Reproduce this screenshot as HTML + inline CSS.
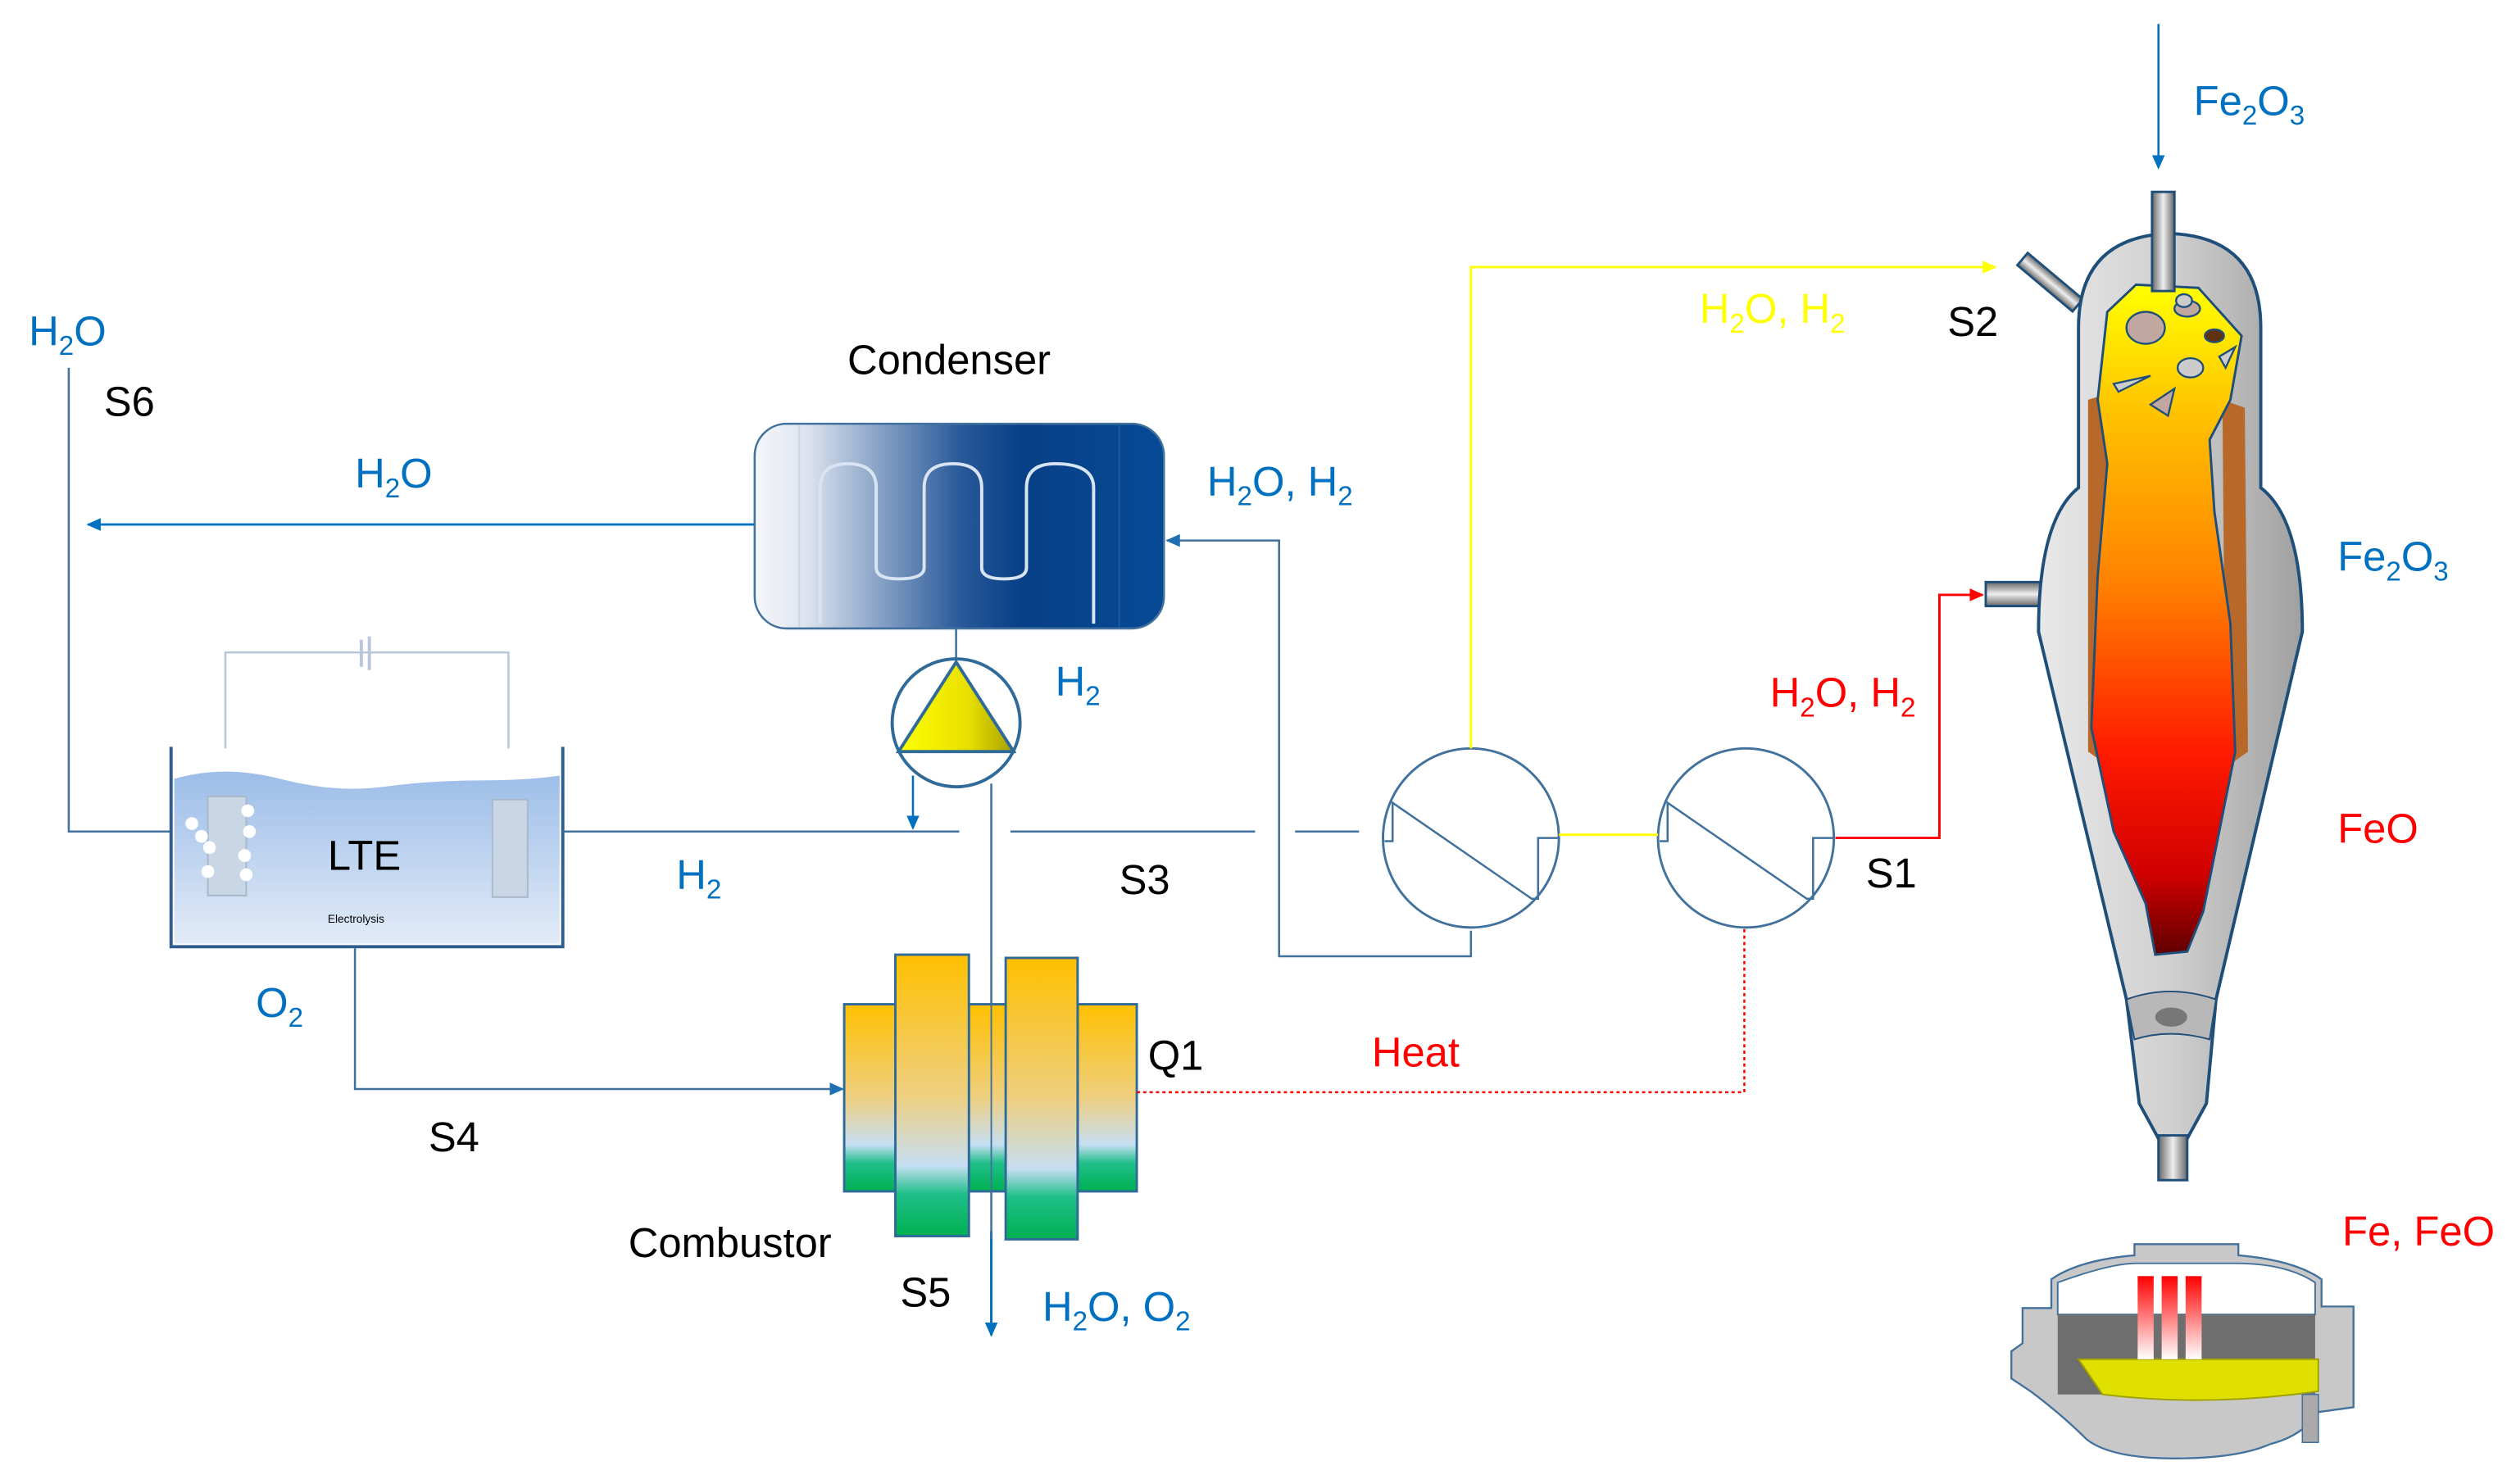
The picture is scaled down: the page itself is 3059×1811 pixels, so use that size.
<!DOCTYPE html>
<html><head><meta charset="utf-8"><style>
html,body{margin:0;padding:0;background:#fff;}
svg{display:block;}
text{font-family:"Liberation Sans",sans-serif;font-size:26px;}
.b{fill:#0070c0}.k{fill:#000}.r{fill:#ff0000}.y{fill:#ffff00}
</style></head><body>
<svg width="3059" height="1811" viewBox="0 0 1568 928" preserveAspectRatio="none" xmlns="http://www.w3.org/2000/svg">
<defs>
<linearGradient id="cond" x1="0" x2="1" y1="0" y2="0">
<stop offset="0" stop-color="#f4f6fa"/><stop offset="0.12" stop-color="#e0e6f0"/><stop offset="0.5" stop-color="#2a5a9a"/><stop offset="0.65" stop-color="#083f86"/><stop offset="1" stop-color="#064a96"/></linearGradient>
<linearGradient id="comb" x1="0" x2="0" y1="0" y2="1">
<stop offset="0" stop-color="#ffc000"/><stop offset="0.5" stop-color="#eecf80"/><stop offset="0.75" stop-color="#c6def2"/><stop offset="0.85" stop-color="#1fbf8a"/><stop offset="1" stop-color="#00b050"/></linearGradient>
<linearGradient id="tri" x1="0" x2="1" y1="0" y2="0"><stop offset="0" stop-color="#ffff00"/><stop offset="0.6" stop-color="#e8e000"/><stop offset="1" stop-color="#a8a000"/></linearGradient>
<linearGradient id="water" x1="0" x2="0" y1="0" y2="1"><stop offset="0" stop-color="#9cbde8"/><stop offset="1" stop-color="#e2ebf7"/></linearGradient>
<linearGradient id="flame" x1="0" x2="0" y1="0" y2="1"><stop offset="0" stop-color="#ffff00"/><stop offset="0.2" stop-color="#ffc000"/><stop offset="0.45" stop-color="#ff8000"/><stop offset="0.7" stop-color="#ff1a00"/><stop offset="0.88" stop-color="#d00000"/><stop offset="1" stop-color="#600000"/></linearGradient>
<linearGradient id="shell" x1="0" x2="1" y1="0" y2="0"><stop offset="0" stop-color="#e8e8e8"/><stop offset="0.5" stop-color="#d0d0d0"/><stop offset="1" stop-color="#a0a0a0"/></linearGradient>
<linearGradient id="pipe" x1="0" x2="1"><stop offset="0" stop-color="#666"/><stop offset="0.5" stop-color="#eee"/><stop offset="1" stop-color="#666"/></linearGradient>
<linearGradient id="pipeh" x1="0" x2="0" y1="0" y2="1"><stop offset="0" stop-color="#666"/><stop offset="0.5" stop-color="#eee"/><stop offset="1" stop-color="#666"/></linearGradient>
<linearGradient id="rod" x1="0" x2="0" y1="0" y2="1"><stop offset="0" stop-color="#ff0000"/><stop offset="1" stop-color="#fff"/></linearGradient>
<marker id="ab" markerWidth="10" markerHeight="10" refX="8" refY="5" orient="auto" markerUnits="userSpaceOnUse"><path d="M0,1 L9,5 L0,9Z" fill="#0070c0"/></marker>
<marker id="ay" markerWidth="10" markerHeight="10" refX="8" refY="5" orient="auto" markerUnits="userSpaceOnUse"><path d="M0,1 L9,5 L0,9Z" fill="#ffff00"/></marker>
<marker id="ar" markerWidth="10" markerHeight="10" refX="8" refY="5" orient="auto" markerUnits="userSpaceOnUse"><path d="M0,1 L9,5 L0,9Z" fill="#ff0000"/></marker>
<marker id="al" markerWidth="10" markerHeight="10" refX="8" refY="5" orient="auto" markerUnits="userSpaceOnUse"><path d="M0,1 L9,5 L0,9Z" fill="#1f6fb0"/></marker>
</defs>

<!-- S6 line -->
<polyline points="43,230 43,520 107,520" fill="none" stroke="#41719c" stroke-width="1.3"/>
<text x="18" y="216" class="b">H<tspan font-size="17" dy="6">2</tspan><tspan dy="-6">O</tspan></text>
<text x="65" y="260" class="k">S6</text>

<!-- H2O arrow from condenser -->
<line x1="472" y1="328" x2="55" y2="328" stroke="#0070c0" stroke-width="1.5" marker-end="url(#ab)"/>
<text x="222" y="305" class="b">H<tspan font-size="17" dy="6">2</tspan><tspan dy="-6">O</tspan></text>

<!-- LTE -->
<polyline points="141,468 141,408 318,408 318,468" fill="none" stroke="#b8c8da" stroke-width="1.3"/>
<line x1="226" y1="400" x2="226" y2="417" stroke="#b8c8da" stroke-width="2"/>
<line x1="231" y1="398" x2="231" y2="419" stroke="#b8c8da" stroke-width="2"/>
<path d="M109,487 Q140,478 175,487 T240,492 T300,488 T350,485 L350,590 L109,590Z" fill="url(#water)"/>
<polyline points="107,467 107,592 352,592 352,467" fill="none" stroke="#2f5e8e" stroke-width="2"/>
<rect x="130" y="498" width="24" height="62" fill="#c8d6e6" stroke="#a8b8c8"/>
<rect x="308" y="500" width="22" height="61" fill="#c8d6e6" stroke="#a8b8c8"/>
<g fill="#fff"><circle cx="120" cy="515" r="4"/><circle cx="126" cy="523" r="4"/><circle cx="131" cy="530" r="4"/><circle cx="155" cy="507" r="4"/><circle cx="156" cy="520" r="4"/><circle cx="153" cy="535" r="4"/><circle cx="130" cy="545" r="4"/><circle cx="154" cy="547" r="4"/></g>
<text x="205" y="544" class="k">LTE</text>
<text x="205" y="577" class="k" style="font-size:7px">Electrolysis</text>

<!-- H2 line -->
<line x1="352" y1="520" x2="600" y2="520" stroke="#41719c" stroke-width="1.3"/>
<line x1="632" y1="520" x2="785" y2="520" stroke="#41719c" stroke-width="1.3"/>
<line x1="810" y1="520" x2="850" y2="520" stroke="#41719c" stroke-width="1.3"/>
<text x="423" y="556" class="b">H<tspan font-size="17" dy="6">2</tspan></text>
<text x="700" y="559" class="k">S3</text>

<!-- O2 line -->
<polyline points="222,593 222,681 527,681" fill="none" stroke="#41719c" stroke-width="1.3" marker-end="url(#al)"/>
<text x="160" y="636" class="b">O<tspan font-size="17" dy="6">2</tspan></text>
<text x="268" y="720" class="k">S4</text>

<!-- condenser -->
<rect x="472" y="265" width="256" height="128" rx="20" fill="url(#cond)" stroke="#41719c" stroke-width="1.3"/>
<line x1="500" y1="266" x2="500" y2="392" stroke="#c9d6e6" stroke-width="1"/>
<line x1="700" y1="266" x2="700" y2="392" stroke="#1d5aa0" stroke-width="1"/>
<path d="M513,390 L513,305 Q513,290 530,290 Q548,290 548,305 L548,355 Q548,362 562,362 Q578,362 578,355 L578,305 Q578,290 596,290 Q614,290 614,305 L614,355 Q614,362 628,362 Q642,362 642,355 L642,305 Q642,290 660,290 Q684,290 684,305 L684,390" fill="none" stroke="#d8e4f2" stroke-width="2"/>
<text x="530" y="234" class="k">Condenser</text>

<!-- return line to condenser -->
<polyline points="920,582 920,598 800,598 800,338 730,338" fill="none" stroke="#41719c" stroke-width="1.3" marker-end="url(#al)"/>
<text x="755" y="310" class="b">H<tspan font-size="17" dy="6">2</tspan><tspan dy="-6">O, H</tspan><tspan font-size="17" dy="6">2</tspan></text>

<!-- pump -->
<line x1="598" y1="393" x2="598" y2="412" stroke="#41719c" stroke-width="1.3"/>
<circle cx="598" cy="452" r="40" fill="#fff" stroke="#2f6a98" stroke-width="2"/>
<path d="M598,414 L634,470 L562,470Z" fill="url(#tri)" stroke="#2f6a98" stroke-width="2"/>
<polyline points="571,485 571,518" fill="none" stroke="#0070c0" stroke-width="1.3" marker-end="url(#ab)"/>
<line x1="620" y1="490" x2="620" y2="835" stroke="#41719c" stroke-width="1.3"/>
<line x1="620" y1="770" x2="620" y2="835" stroke="#0070c0" stroke-width="1.5" marker-end="url(#ab)"/>
<text x="660" y="435" class="b">H<tspan font-size="17" dy="6">2</tspan></text>

<!-- combustor -->
<g stroke="#2f6a98" stroke-width="1.5" fill="url(#comb)">
<rect x="528" y="628" width="33" height="117"/>
<rect x="606" y="628" width="24" height="117"/>
<rect x="674" y="628" width="37" height="117"/>
<rect x="560" y="597" width="46" height="176"/>
<rect x="629" y="599" width="45" height="176"/>
</g>
<line x1="620" y1="598" x2="620" y2="775" stroke="#41719c" stroke-width="1"/>
<text x="393" y="786" class="k">Combustor</text>
<text x="563" y="817" class="k">S5</text>
<text x="652" y="826" class="b">H<tspan font-size="17" dy="6">2</tspan><tspan dy="-6">O, O</tspan><tspan font-size="17" dy="6">2</tspan></text>
<text x="718" y="669" class="k">Q1</text>

<!-- heat -->
<polyline points="711,683 1091,683 1091,580" fill="none" stroke="#ff0000" stroke-width="1.3" stroke-dasharray="2,2"/>
<text x="858" y="667" class="r">Heat</text>

<!-- exchangers -->
<g fill="#fff" stroke="#41719c" stroke-width="1.5">
<ellipse cx="920" cy="524" rx="55" ry="56"/>
<ellipse cx="1092" cy="524" rx="55" ry="56"/>
</g>
<g fill="none" stroke="#41719c" stroke-width="1.3">
<polyline points="866,526 871,526 871,502 958,562 962,562 962,524 975,524"/>
<polyline points="1038,526 1043,526 1043,502 1130,562 1134,562 1134,524 1147,524"/>
</g>
<line x1="975" y1="522" x2="1037" y2="522" stroke="#ffff00" stroke-width="1.5"/>
<polyline points="920,468 920,167 1248,167" fill="none" stroke="#ffff00" stroke-width="1.5" marker-end="url(#ay)"/>
<text x="1063" y="202" class="y">H<tspan font-size="17" dy="6">2</tspan><tspan dy="-6">O, H</tspan><tspan font-size="17" dy="6">2</tspan></text>
<text x="1218" y="210" class="k">S2</text>
<polyline points="1148,524 1213,524 1213,372 1240,372" fill="none" stroke="#ff0000" stroke-width="1.5" marker-end="url(#ar)"/>
<text x="1107" y="442" class="r">H<tspan font-size="17" dy="6">2</tspan><tspan dy="-6">O, H</tspan><tspan font-size="17" dy="6">2</tspan></text>
<text x="1167" y="555" class="k">S1</text>

<!-- Fe2O3 inlet -->
<line x1="1350" y1="15" x2="1350" y2="105" stroke="#0070c0" stroke-width="1.3" marker-end="url(#ab)"/>
<text x="1372" y="72" class="b">Fe<tspan font-size="17" dy="6">2</tspan><tspan dy="-6">O</tspan><tspan font-size="17" dy="6">3</tspan></text>

<!-- reactor -->
<rect x="1260" y="162" width="10" height="45" fill="url(#pipe)" stroke="#1f4e79" stroke-width="1.5" transform="rotate(-50 1265 162)"/>
<rect x="1242" y="364" width="34" height="15" fill="url(#pipeh)" stroke="#1f4e79" stroke-width="1.5"/>
<path d="M1300,205 Q1300,148 1357,146 Q1414,148 1414,205 L1414,305 Q1440,325 1440,395 L1386,625 L1380,690 L1368,712 L1350,712 L1338,690 L1330,625 L1275,395 Q1275,325 1300,305 Z" fill="url(#shell)" stroke="#1f4e79" stroke-width="2"/>
<path d="M1330,625 Q1357,615 1386,625 L1382,650 Q1357,643 1335,650Z" fill="#b8b8b8" stroke="#1f4e79" stroke-width="1"/>
<ellipse cx="1358" cy="636" rx="10" ry="6" fill="#777"/>
<rect x="1350" y="710" width="18" height="28" fill="url(#pipe)" stroke="#1f4e79" stroke-width="1.5"/>
<g fill="#b8692a">
<path d="M1306,250 L1322,245 L1320,480 L1306,470Z"/>
<path d="M1390,250 L1404,255 L1406,470 L1392,480Z"/>
</g>
<path d="M1318,195 L1336,178 L1375,180 L1402,210 L1395,250 L1382,275 L1385,320 L1395,390 L1398,470 L1388,520 L1378,570 L1368,595 L1348,597 L1342,565 L1322,520 L1308,455 L1312,360 L1318,290 L1312,250Z" fill="url(#flame)" stroke="#1f4e79" stroke-width="1.5"/>
<rect x="1346" y="120" width="14" height="62" fill="url(#pipe)" stroke="#1f4e79" stroke-width="1.5"/>
<g fill="#c0a8a0" stroke="#1f4e79" stroke-width="1.2">
<ellipse cx="1342" cy="205" rx="12" ry="10"/><ellipse cx="1368" cy="193" rx="8" ry="5"/>
<ellipse cx="1385" cy="210" rx="6" ry="4" fill="#603010"/><ellipse cx="1370" cy="230" rx="8" ry="6" fill="#ccc"/>
<path d="M1345,253 L1360,243 L1356,260Z"/><path d="M1322,240 L1345,235 L1325,245Z" fill="#ccc"/>
<path d="M1388,223 L1398,217 L1392,230Z" fill="#ccc"/><ellipse cx="1366" cy="188" rx="5" ry="4" fill="#ccc"/>
</g>
<text x="1462" y="357" class="b">Fe<tspan font-size="17" dy="6">2</tspan><tspan dy="-6">O</tspan><tspan font-size="17" dy="6">3</tspan></text>
<text x="1462" y="527" class="r">FeO</text>
<text x="1465" y="779" class="r">Fe, FeO</text>

<!-- furnace -->
<path d="M1283,800 Q1300,788 1335,785 L1335,778 L1400,778 L1400,785 Q1435,788 1452,800 L1452,817 L1472,817 L1472,880 L1450,883 Q1440,898 1420,903 Q1400,912 1360,912 Q1320,912 1305,900 Q1290,885 1270,870 L1258,862 L1258,845 L1265,840 L1265,818 L1283,818 Z" fill="#c8c8c8" stroke="#41719c" stroke-width="1.2"/>
<path d="M1287,822 L1287,802 Q1320,790 1336,790 L1398,790 Q1430,790 1448,802 L1448,822Z" fill="#fff" stroke="#41719c" stroke-width="1"/>
<rect x="1287" y="822" width="161" height="50" fill="#6e6e6e"/>
<path d="M1300,850 L1450,850 L1450,870 Q1380,880 1315,872Z" fill="#e0e000" stroke="#a0a000" stroke-width="1"/>
<rect x="1337" y="798" width="10" height="52" fill="url(#rod)"/>
<rect x="1352" y="798" width="10" height="52" fill="url(#rod)"/>
<rect x="1367" y="798" width="10" height="52" fill="url(#rod)"/>
<rect x="1440" y="872" width="10" height="30" fill="#aaa" stroke="#41719c" stroke-width="0.8"/>
</svg>
</body></html>
